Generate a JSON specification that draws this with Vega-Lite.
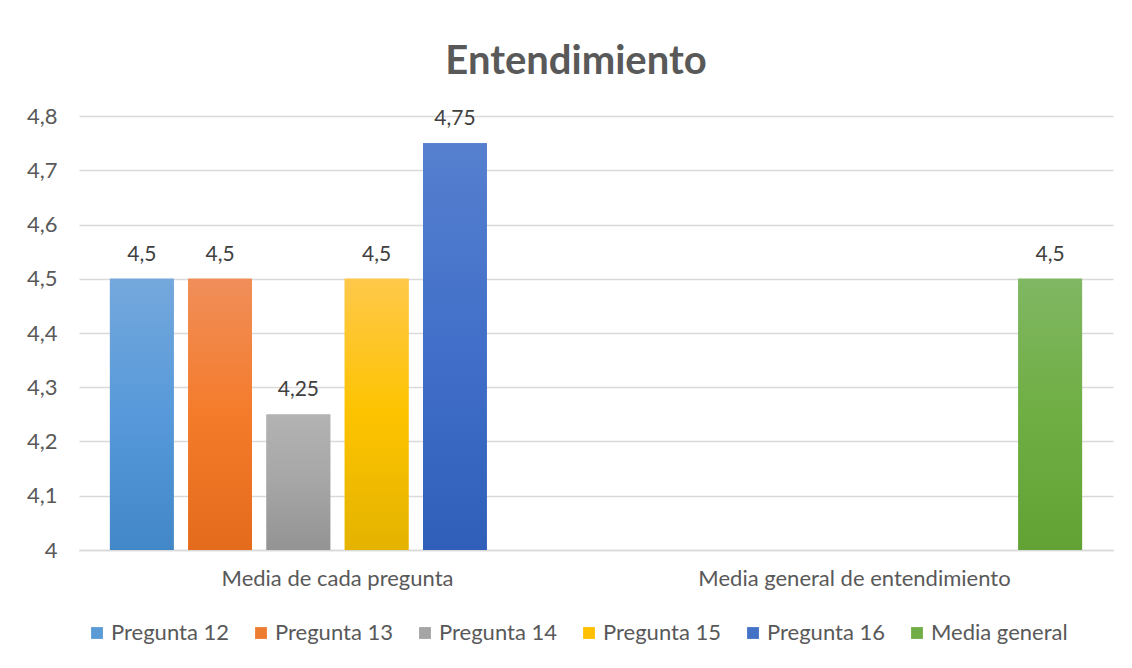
{
  "$schema": "https://vega.github.io/schema/vega-lite/v6.json",
  "width": 1034,
  "height": 434,
  "autosize": {"type": "none"},
  "padding": {"left": 79, "top": 116, "right": 19, "bottom": 118},
  "background": "white",
  "title": {
    "text": "Entendimiento",
    "font": "Lato",
    "fontSize": 40,
    "fontWeight": "bold",
    "color": "#595959",
    "frame": "group",
    "anchor": "middle",
    "dx": -20,
    "offset": 23
  },
  "data": {
    "values": [
      {"categoria": "Media de cada pregunta", "serie": "Pregunta 12", "valor": 4.5},
      {"categoria": "Media de cada pregunta", "serie": "Pregunta 13", "valor": 4.5},
      {"categoria": "Media de cada pregunta", "serie": "Pregunta 14", "valor": 4.25},
      {"categoria": "Media de cada pregunta", "serie": "Pregunta 15", "valor": 4.5},
      {"categoria": "Media de cada pregunta", "serie": "Pregunta 16", "valor": 4.75},
      {"categoria": "Media general de entendimiento", "serie": "Media general", "valor": 4.5}
    ]
  },
  "encoding": {
    "x": {
      "field": "categoria",
      "type": "nominal",
      "sort": null,
      "scale": {"paddingInner": 0, "paddingOuter": 0},
      "axis": {
        "title": null,
        "labelAngle": 0,
        "labelLimit": 0,
        "labelFont": "Lato",
        "labelFontSize": 22,
        "labelColor": "#595959",
        "labelPadding": 18,
        "ticks": false,
        "domain": true,
        "domainColor": "#d9d9d9",
        "domainWidth": 1.5,
        "grid": false
      }
    },
    "xOffset": {
      "field": "serie",
      "type": "nominal",
      "scale": {
        "domain": ["Pregunta 12", "Pregunta 13", "Pregunta 14", "Pregunta 15", "Pregunta 16", "Media general"],
        "paddingInner": 0.185,
        "paddingOuter": 0.395
      }
    },
    "y": {
      "field": "valor",
      "type": "quantitative",
      "scale": {"domain": [4, 4.8], "zero": false, "nice": false},
      "axis": {
        "title": null,
        "values": [4, 4.1, 4.2, 4.3, 4.4, 4.5, 4.6, 4.7, 4.8],
        "format": "~g",
        "labelFont": "Lato",
        "labelFontSize": 22,
        "labelColor": "#595959",
        "labelPadding": 22,
        "ticks": false,
        "domain": false,
        "grid": true,
        "gridColor": "#d9d9d9",
        "gridWidth": 1.5
      }
    }
  },
  "layer": [
    {
      "mark": {"type": "bar"},
      "encoding": {
        "y2": {"datum": 4},
        "fill": {
          "field": "serie",
          "type": "nominal",
          "scale": {
            "domain": ["Pregunta 12", "Pregunta 13", "Pregunta 14", "Pregunta 15", "Pregunta 16", "Media general"],
            "range": ["#5b9bd5", "#ed7d31", "#a5a5a5", "#ffc000", "#4472c4", "#70ad47"]
          },
          "legend": {
            "title": null,
            "orient": "none",
            "legendX": 7,
            "legendY": 506,
            "direction": "horizontal",
            "symbolType": "square",
            "symbolSize": 140,
            "symbolStrokeWidth": 0,
            "labelFont": "Lato",
            "labelFontSize": 22,
            "labelColor": "#595959",
            "labelOffset": 3,
            "columnPadding": 21
          }
        }
      }
    },
    {
      "mark": {"type": "bar"},
      "encoding": {
        "y2": {"datum": 4},
        "fill": {
          "condition": [
            {"test": "datum.serie === 'Pregunta 12'", "value": {"gradient": "linear", "x1": 0, "y1": 0, "x2": 0, "y2": 1, "stops": [{"offset": 0, "color": "#74a8dc"}, {"offset": 0.5, "color": "#5799da"}, {"offset": 1, "color": "#4287c8"}]}},
            {"test": "datum.serie === 'Pregunta 13'", "value": {"gradient": "linear", "x1": 0, "y1": 0, "x2": 0, "y2": 1, "stops": [{"offset": 0, "color": "#f08e5a"}, {"offset": 0.5, "color": "#f47b2a"}, {"offset": 1, "color": "#e56b1c"}]}},
            {"test": "datum.serie === 'Pregunta 14'", "value": {"gradient": "linear", "x1": 0, "y1": 0, "x2": 0, "y2": 1, "stops": [{"offset": 0, "color": "#b3b3b3"}, {"offset": 0.5, "color": "#a6a6a6"}, {"offset": 1, "color": "#939393"}]}},
            {"test": "datum.serie === 'Pregunta 15'", "value": {"gradient": "linear", "x1": 0, "y1": 0, "x2": 0, "y2": 1, "stops": [{"offset": 0, "color": "#ffc84a"}, {"offset": 0.5, "color": "#fdc300"}, {"offset": 1, "color": "#e4b300"}]}},
            {"test": "datum.serie === 'Pregunta 16'", "value": {"gradient": "linear", "x1": 0, "y1": 0, "x2": 0, "y2": 1, "stops": [{"offset": 0, "color": "#5680cf"}, {"offset": 0.5, "color": "#416fc9"}, {"offset": 1, "color": "#2f5fb9"}]}}
          ],
          "value": {"gradient": "linear", "x1": 0, "y1": 0, "x2": 0, "y2": 1, "stops": [{"offset": 0, "color": "#80b763"}, {"offset": 0.5, "color": "#6fae43"}, {"offset": 1, "color": "#62a234"}]}
        }
      }
    },
    {
      "mark": {
        "type": "text",
        "baseline": "alphabetic",
        "dy": -18,
        "font": "Lato",
        "fontSize": 21,
        "color": "#404040"
      },
      "encoding": {
        "text": {"field": "valor", "type": "quantitative", "format": "~g"}
      }
    }
  ],
  "config": {
    "locale": {
      "number": {"decimal": ",", "thousands": ".", "grouping": [3], "currency": ["", " €"]}
    },
    "view": {"stroke": null}
  }
}
